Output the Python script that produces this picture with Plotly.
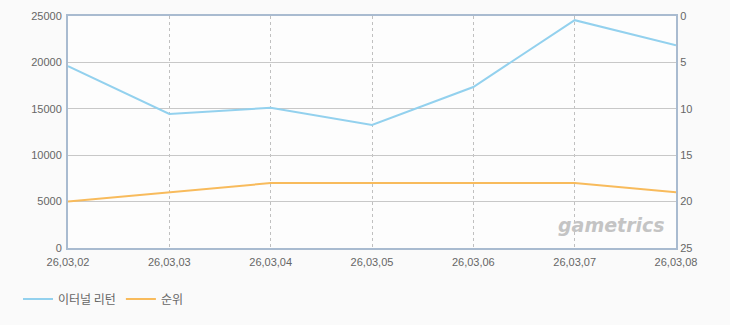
import plotly.graph_objects as go

dates = ["26,03,02", "26,03,03", "26,03,04", "26,03,05", "26,03,06", "26,03,07", "26,03,08"]
eternal_return = [19600, 14450, 15100, 13250, 17350, 24550, 21850]
rank = [20, 19, 18, 18, 18, 18, 19]
left_ticks = [0, 5000, 10000, 15000, 20000, 25000]
right_ticks = [0, 5, 10, 15, 20, 25]

W, H = 730, 325
L, R, T, B = 68, 54, 16, 77
idx = list(range(len(dates)))
font = dict(family="Liberation Sans, Noto Sans CJK KR, sans-serif", size=11, color="#666666")

fig = go.Figure()
fig.add_trace(go.Scatter(x=idx, y=eternal_return, mode="lines", name="이터널 리턴",
                         line=dict(color="#93d1ee", width=2)))
fig.add_trace(go.Scatter(x=idx, y=rank, mode="lines", name="순위", yaxis="y2",
                         line=dict(color="#f8bb5c", width=2)))

axis_line = "#a9bbd0"
fig.update_layout(
    width=W, height=H,
    margin=dict(l=L, r=R, t=T, b=B, autoexpand=False),
    paper_bgcolor="#fafafa", plot_bgcolor="#fdfdfd",
    font=font,
    showlegend=True,
    legend=dict(orientation="h", xref="container", x=18 / W, yref="container",
                y=(H - 299) / H, yanchor="middle", xanchor="left",
                font=dict(family="Noto Sans CJK KR, sans-serif", size=12, color="#666666"),
                bgcolor="rgba(0,0,0,0)"),
    xaxis=dict(range=[0, len(dates) - 1], tickvals=idx, ticktext=dates,
               showgrid=True, gridcolor="#c0c0c0", griddash="3px,3px", gridwidth=1,
               showline=True, linecolor=axis_line, linewidth=2, mirror=True,
               ticks="", ticklabelstandoff=3,
               tickfont=dict(size=11, color="#666666"), zeroline=False),
    yaxis=dict(range=[0, 25000], tickvals=left_ticks, ticktext=[str(v) for v in left_ticks],
               showgrid=True, gridcolor="#c8c8c8", gridwidth=1,
               showline=True, linecolor=axis_line, linewidth=2,
               ticks="", zeroline=False, ticklabelstandoff=2,
               tickfont=dict(size=11, color="#666666")),
    yaxis2=dict(range=[25, 0], tickvals=right_ticks, ticktext=[str(v) for v in right_ticks],
                overlaying="y", side="right", showgrid=False, showline=True,
                linecolor=axis_line, linewidth=2, ticks="", zeroline=False,
                tickfont=dict(size=11, color="#666666")),
)

fig.add_annotation(text="<b><i>gametrics</i></b>", xref="paper", yref="paper",
                   x=0.985, y=0.045, xanchor="right", yanchor="bottom", showarrow=False,
                   font=dict(family="DejaVu Sans, sans-serif", size=19, color="#c4c4c4"))

fig.write_html("out.html")
